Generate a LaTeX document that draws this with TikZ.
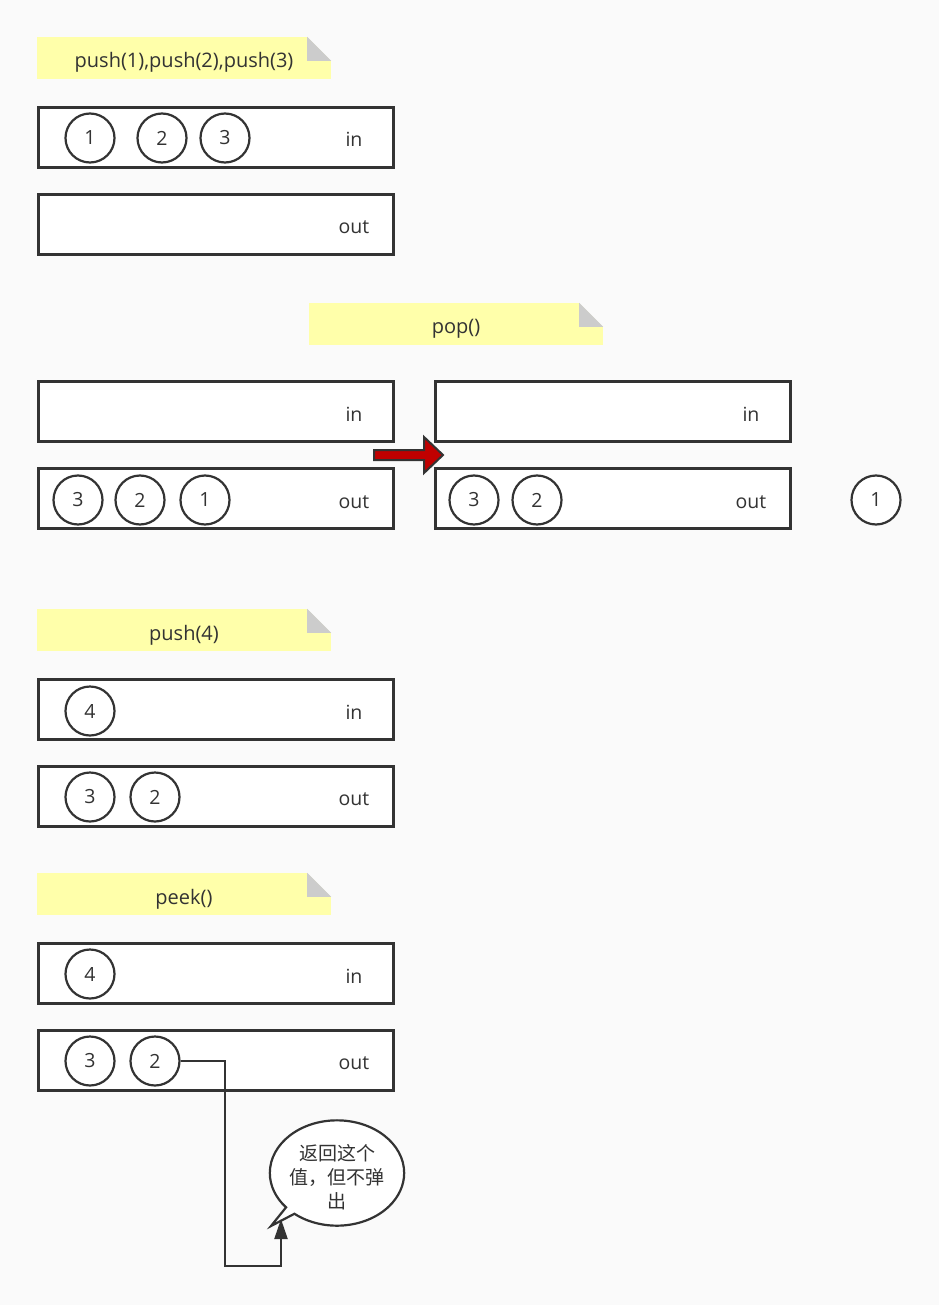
\documentclass[tikz,border=0pt]{standalone}
\usepackage{fontspec}
\setmainfont{Open Sans}
\newfontfamily\cjk{Noto Sans CJK SC}
\usepackage{tikz}
\usetikzlibrary{shapes.geometric, shapes.callouts, arrows.meta}

\definecolor{paper}{HTML}{FAFAFA}
\definecolor{ink}{HTML}{333333}
\definecolor{noteyellow}{HTML}{FFFFAA}
\definecolor{foldgrey}{HTML}{CCCCCC}
\definecolor{movered}{HTML}{C00000}

\tikzstyle{note} = [rectangle, minimum width=294pt, minimum height=42pt, inner sep=0pt, fill=noteyellow, text=ink, text height=20pt, text depth=0pt, font=\fontsize{20}{24}\selectfont]
\tikzstyle{stack} = [rectangle, minimum width=355pt, minimum height=60pt, draw=ink, line width=3pt, fill=white]
\tikzstyle{ball} = [circle, minimum size=49pt, inner sep=0pt, draw=ink, line width=2.2pt, fill=white, text=ink, font=\fontsize{19.5}{23}\selectfont]
\tikzstyle{tag} = [text=ink, font=\fontsize{19.5}{23}\selectfont]
\tikzstyle{move} = [draw=ink, line width=2pt, fill=movered, line join=miter]
\tikzstyle{arrow} = [draw=ink, line width=2.2pt, -{Triangle[length=20pt,width=13pt]}]

% folded corner of a note
\newcommand{\notefold}[1]{%
  \fill[paper] (#1.north east) -- ++(-24,0) -- ++(24,24) -- cycle;
  \fill[foldgrey] (#1.north east) ++(-24,0) -- ++(0,24) -- ++(24,0) -- cycle;
}

\begin{document}
\begin{tikzpicture}[x=1pt, y=-1pt]

        \fill[paper] (0,0) rectangle (939,1305);
        \useasboundingbox (0,0) rectangle (939,1305);

        % push(1),push(2),push(3)
        \node (pushnote) [note] at (184,58) {push(1),push(2),push(3)};
        \notefold{pushnote}
        \node (in1) [stack] at (216,137.5) {};
        \node (in1tag) [tag] at (354,139.5) {in};
        \node (a1) [ball] at (90,138) {1};
        \node (a2) [ball] at (162,138) {2};
        \node (a3) [ball] at (225,138) {3};
        \node (out1) [stack] at (216,224.5) {};
        \node (out1tag) [tag] at (354,227.5) {out};

        % pop()
        \node (popnote) [note] at (456,324) {pop()};
        \notefold{popnote}
        \node (in2) [stack] at (216,411.5) {};
        \node (in2tag) [tag] at (354,414.5) {in};
        \node (out2) [stack] at (216,498.5) {};
        \node (out2tag) [tag] at (354,502.5) {out};
        \node (b3) [ball] at (78,500) {3};
        \node (b2) [ball] at (140,500) {2};
        \node (b1) [ball] at (205,500) {1};

        \node (in3) [stack] at (613,411.5) {};
        \node (in3tag) [tag] at (751,414.5) {in};
        \node (out3) [stack] at (613,498.5) {};
        \node (out3tag) [tag] at (751,502.5) {out};
        \node (c3) [ball] at (474,500) {3};
        \node (c2) [ball] at (537,500) {2};
        \node (popped) [ball] at (876,500) {1};

        \draw [move] (374,450) -- (424,450) -- (424,437) -- (443,455)
                     -- (424,473) -- (424,460) -- (374,460) -- cycle;

        % push(4)
        \node (push4note) [note] at (184,630) {push(4)};
        \notefold{push4note}
        \node (in4) [stack] at (216,709.5) {};
        \node (in4tag) [tag] at (354,712) {in};
        \node (d4) [ball] at (90,711) {4};
        \node (out4) [stack] at (216,796.5) {};
        \node (out4tag) [tag] at (354,799) {out};
        \node (d3) [ball] at (90,797) {3};
        \node (d2) [ball] at (155,797) {2};

        % peek()
        \node (peeknote) [note] at (184,894) {peek()};
        \notefold{peeknote}
        \node (in5) [stack] at (216,973.5) {};
        \node (in5tag) [tag] at (354,976) {in};
        \node (e4) [ball] at (90,974) {4};
        \node (out5) [stack] at (216,1060.5) {};
        \node (out5tag) [tag] at (354,1063) {out};
        \node (e3) [ball] at (90,1061) {3};
        \node (e2) [ball] at (155,1061) {2};

        \node (say) [ellipse callout, draw=ink, line width=2.2pt, fill=white,
                     minimum width=132pt, minimum height=103pt, inner sep=0pt,
                     callout absolute pointer={(271,1226)}, callout pointer arc=10,
                     text=ink, align=center, font=\cjk\fontsize{19}{24}\selectfont]
                     at (337,1173) {\rule{0pt}{25pt}返回这个\\值，但不弹\\出};
        \coordinate (tip) at (281,1219);

        \draw [arrow] (e2.east) -| (225,1266) -| (tip);

      \end{tikzpicture}
\end{document}
